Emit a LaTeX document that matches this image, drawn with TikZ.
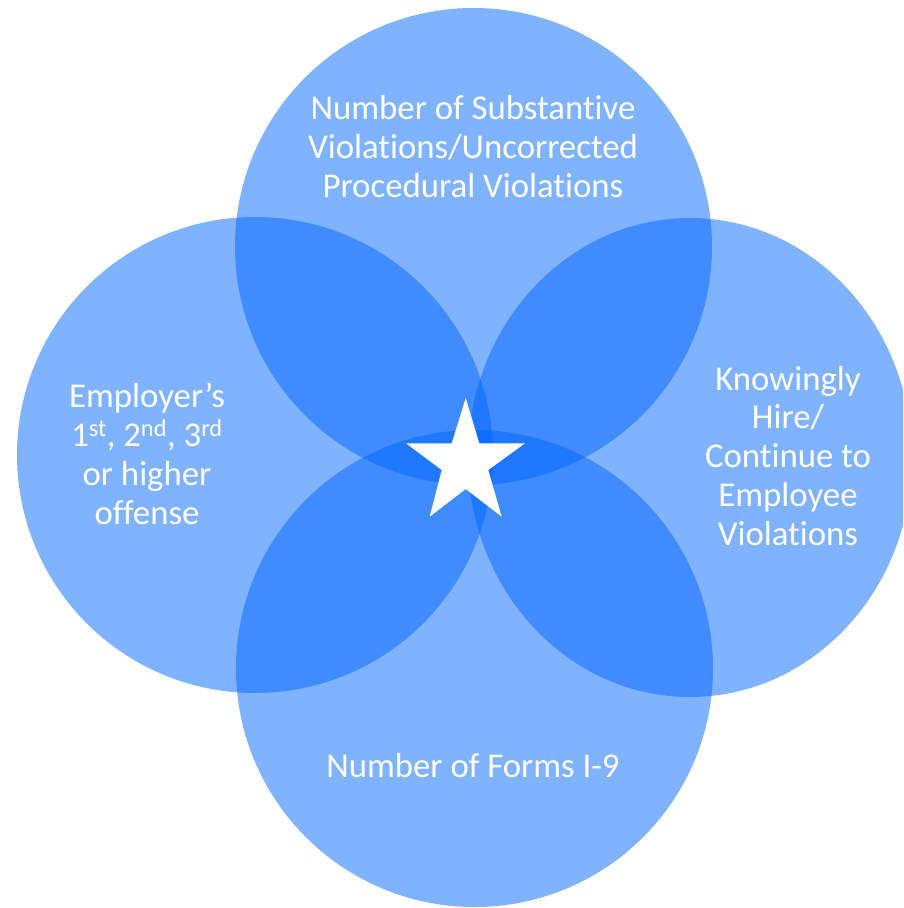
\documentclass[tikz,border=0pt]{standalone}
\usepackage{fontspec}
\setmainfont[Ligatures=NoCommon,RawFeature=-calt]{Carlito}
\definecolor{discblue}{RGB}{0,101,255}
\begin{document}
\begin{tikzpicture}[x=1pt,y=-1pt,
  disc/.style={fill=discblue,fill opacity=0.5,draw=none},
  caption/.style={text=white,inner sep=0pt,anchor=base,
    font=\fontsize{34.8}{39}\selectfont}]
\useasboundingbox (0,0) rectangle (903,908);
\clip (0,0) rectangle (903,908);
% four overlapping discs
\path[disc] (473.5,246.5) circle[radius=238.5];
\path[disc] (255,455) circle[radius=238];
\path[disc] (690,457.5) ellipse[x radius=222,y radius=239.5];
\path[disc] (474.5,668.5) circle[radius=238.5];
% star at the common centre
\fill[white] (465.7,398) -- (479.3,443.3) -- (525,443.3) -- (488.3,470)
  -- (501.7,516.7) -- (465.7,489) -- (429.7,516.7) -- (441.7,470)
  -- (406,443.3) -- (451.7,443.3) -- cycle;
% captions, one node per line
\foreach \txt [count=\i] in {Number of Substantive,Violations/Uncorrected,Procedural Violations}
  \node[caption] (top\i) at (473,119+39*\i-39) {\txt};
\foreach \txt [count=\i] in {Employer’s,{1\textsuperscript{st}, 2\textsuperscript{nd}, 3\textsuperscript{rd}},or higher,offense}
  \node[caption] (left\i) at (147,407+39*\i-39) {\txt};
\foreach \txt [count=\i] in {Knowingly,Hire/,Continue to,Employee,Violations}
  \node[caption] (right\i) at (788,390+38.8*\i-38.8) {\txt};
\node[caption] (bottom1) at (473,777) {Number of Forms I-9};
\end{tikzpicture}
\end{document}
